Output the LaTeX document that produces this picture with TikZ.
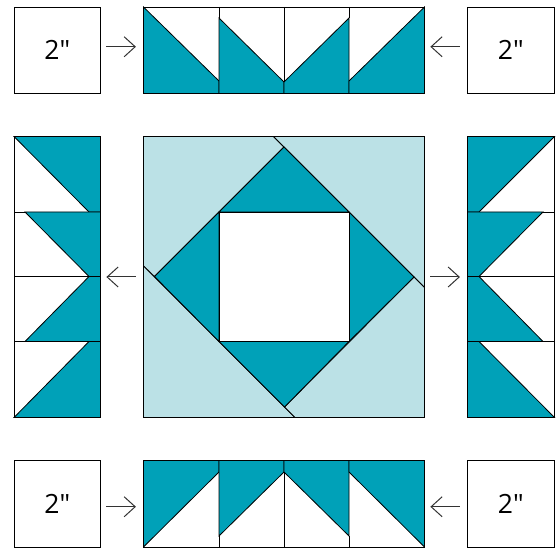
\documentclass[tikz,border=0pt]{standalone}
\usepackage{fontspec}
\usepackage{tikz}
\usetikzlibrary{arrows.meta}
\setmainfont{Open Sans}[Ligatures=TeXOff]
\definecolor{quiltdark}{HTML}{00A1B8}
\definecolor{quiltlight}{HTML}{BBE1E6}
\definecolor{arrowgray}{HTML}{333333}
\tikzset{
  seam/.style={draw=black, line width=0.8pt, line join=miter},
  dark/.style={seam, fill=quiltdark},
  light/.style={seam, fill=quiltlight},
  patch/.style={seam, inner sep=0pt, minimum width=86.5pt, minimum height=86.5pt, font=\fontsize{26.5}{26.5}\selectfont},
  strip_h/.style={seam, inner sep=0pt, minimum width=281pt, minimum height=86.5pt},
  strip_v/.style={seam, inner sep=0pt, minimum width=86.5pt, minimum height=281pt},
  join_r/.style={arrowgray, line width=1pt, -{Straight Barb[length=11pt,width=20pt,line width=1pt]}, shorten <=5.2pt, shorten >=7.2pt},
  join_l/.style={arrowgray, line width=1pt, -{Straight Barb[length=11pt,width=20pt,line width=1pt]}, shorten <=7.2pt, shorten >=5.5pt},
}

\begin{document}
\begin{tikzpicture}[x=1pt,y=-1pt]
\useasboundingbox (0,0) rectangle (558,548);

% top row
\draw[dark] (143.5,7) -- (219,81) -- (219,93.5) -- (143.5,93.5) -- cycle;
\draw[dark] (219,18) -- (284,82) -- (284,93.5) -- (219,93.5) -- cycle;
\draw[dark] (349,18) -- (284,82) -- (284,93.5) -- (349,93.5) -- cycle;
\draw[dark] (424.5,7) -- (349,81) -- (349,93.5) -- (424.5,93.5) -- cycle;
% bottom row
\draw[dark] (143.5,547) -- (219,472) -- (219,460.5) -- (143.5,460.5) -- cycle;
\draw[dark] (219,536) -- (284,472) -- (284,460.5) -- (219,460.5) -- cycle;
\draw[dark] (349,536) -- (284,472) -- (284,460.5) -- (349,460.5) -- cycle;
\draw[dark] (424.5,547) -- (349,472) -- (349,460.5) -- (424.5,460.5) -- cycle;
% left column
\draw[dark] (14,136.5) -- (89,212) -- (100.5,212) -- (100.5,136.5) -- cycle;
\draw[dark] (25,212) -- (89,276.5) -- (100.5,276.5) -- (100.5,212) -- cycle;
\draw[dark] (25,341.5) -- (89,276.5) -- (100.5,276.5) -- (100.5,341.5) -- cycle;
\draw[dark] (14,417.5) -- (89,341.5) -- (100.5,341.5) -- (100.5,417.5) -- cycle;
% right column
\draw[dark] (554.5,136.5) -- (479,212) -- (467.5,212) -- (467.5,136.5) -- cycle;
\draw[dark] (543,212) -- (479,276.5) -- (467.5,276.5) -- (467.5,212) -- cycle;
\draw[dark] (543,341.5) -- (479,276.5) -- (467.5,276.5) -- (467.5,341.5) -- cycle;
\draw[dark] (554.5,417.5) -- (479,341.5) -- (467.5,341.5) -- (467.5,417.5) -- cycle;
% centre block
\draw[light] (143.5,136.5) -- (273.5,136.5) -- (284,147) -- (154.5,276.5) -- (143.5,266) -- cycle;
\draw[light] (273.5,136.5) -- (424.5,136.5) -- (424.5,287.5) -- cycle;
\draw[light] (143.5,266) -- (143.5,417.5) -- (295,417.5) -- cycle;
\draw[light] (424.5,287.5) -- (424.5,417.5) -- (295,417.5) -- (284.5,407) -- (414,277) -- cycle;
\draw[dark] (284,147) -- (349,212) -- (219,212) -- cycle;
\draw[dark] (154.5,276.5) -- (219,212) -- (219,341.5) -- cycle;
\draw[dark] (414,277) -- (349,212) -- (349,341.5) -- cycle;
\draw[dark] (284.5,407) -- (349,341.5) -- (219,341.5) -- cycle;

\node[name=square_tl, patch] at (57.25,50.25) {2"};
\node[name=square_tr, patch] at (510.75,50.25) {2"};
\node[name=square_bl, patch] at (57.25,503.75) {2"};
\node[name=square_br, patch] at (510.75,503.75) {2"};
\node[name=strip_top, strip_h] at (284,50.25) {};
\node[name=strip_bottom, strip_h] at (284,503.75) {};
\node[name=strip_left, strip_v] at (57.25,277) {};
\node[name=strip_right, strip_v] at (510.75,277) {};
\node[name=block, minimum width=281pt, minimum height=281pt, seam, inner sep=0pt] at (284,277) {};
\node[name=hole, seam, fill=white, inner sep=0pt, minimum width=130pt, minimum height=129.5pt] at (284,276.75) {};

\draw[seam] (219,7) -- (219,18);
\draw[seam] (284,7) -- (284,82);
\draw[seam] (349,7) -- (349,18);
\draw[seam] (219,536) -- (219,547);
\draw[seam] (284,472) -- (284,547);
\draw[seam] (349,536) -- (349,547);
\draw[seam] (14,212) -- (25,212);
\draw[seam] (14,276.5) -- (89,276.5);
\draw[seam] (14,341.5) -- (25,341.5);
\draw[seam] (554.5,212) -- (543,212);
\draw[seam] (554.5,276.5) -- (479,276.5);
\draw[seam] (554.5,341.5) -- (543,341.5);

\draw([yshift=3.5pt]square_tl.east) edge[join_r]([yshift=3.5pt]strip_top.west);
\draw([yshift=3.5pt]square_tr.west) edge[join_l]([yshift=3.5pt]strip_top.east);
\draw([yshift=-3pt]square_bl.east) edge[join_r]([yshift=-3pt]strip_bottom.west);
\draw([yshift=-3pt]square_br.west) edge[join_l]([yshift=-3pt]strip_bottom.east);
\draw(block.west) edge[join_l](strip_left.east);
\draw(block.east) edge[join_r](strip_right.west);

\end{tikzpicture}
\end{document}
